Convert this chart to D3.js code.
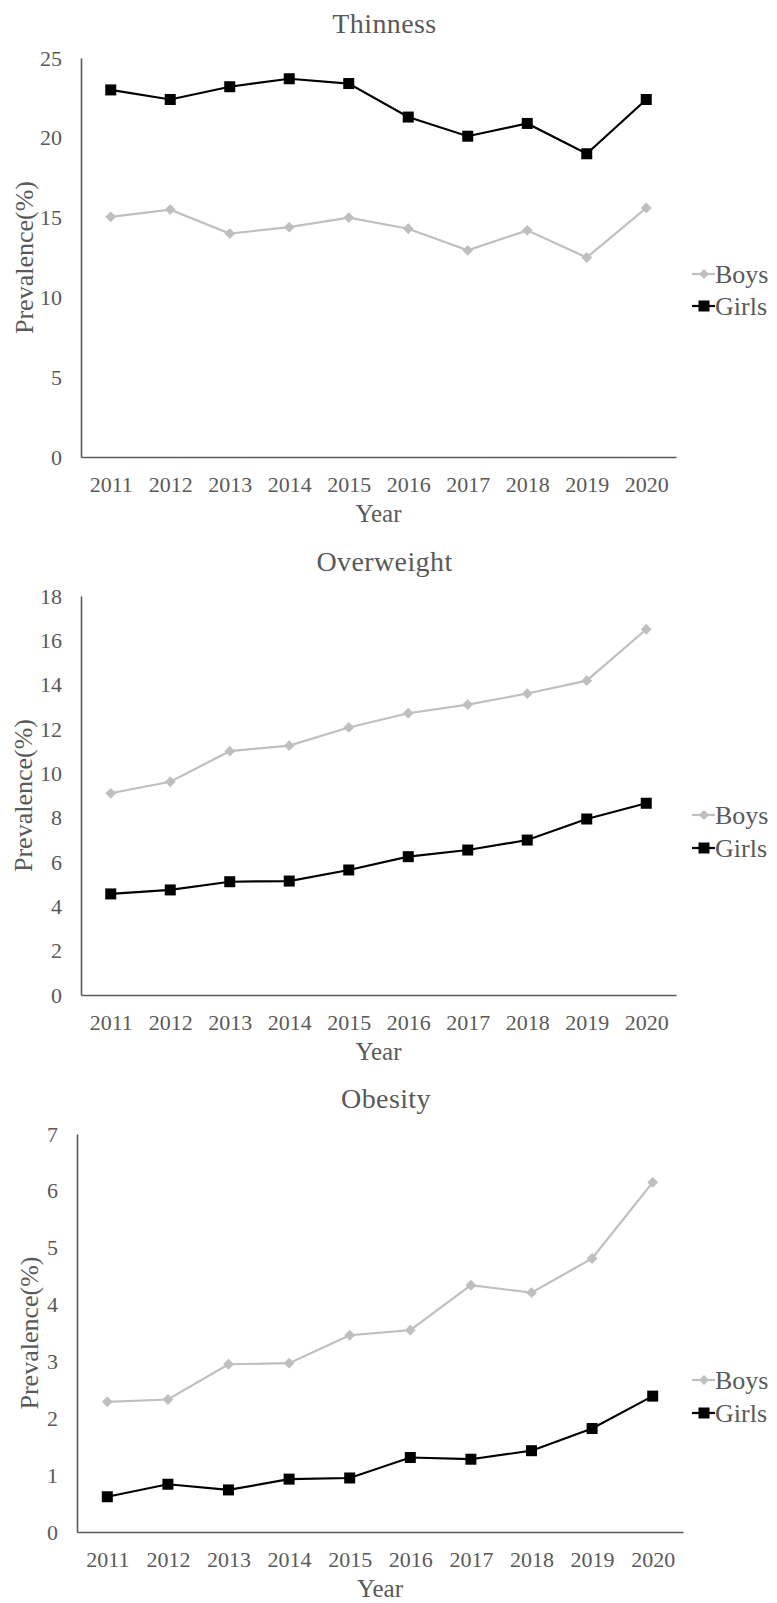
<!DOCTYPE html>
<html>
<head>
<meta charset="utf-8">
<script src="https://cdn.jsdelivr.net/npm/d3@7"></script>
<style>
  html, body { margin: 0; padding: 0; background: #fff; }
  svg { display: block; font-family: "Liberation Serif", "Times New Roman", serif; }
</style>
</head>
<body>
<svg id="chart" width="777" height="1603"></svg>
<script>
// Prevalence (%) by survey year
const years = ["2011", "2012", "2013", "2014", "2015", "2016", "2017", "2018", "2019", "2020"];

const thinnessBoys  = [15.05, 15.5, 14.0, 14.4, 15.0, 14.3, 12.95, 14.2, 12.5, 15.6];
const thinnessGirls = [23.0, 22.4, 23.2, 23.7, 23.4, 21.3, 20.1, 20.9, 19.0, 22.4];

const overweightBoys  = [9.1, 9.62, 11.0, 11.25, 12.07, 12.71, 13.1, 13.6, 14.18, 16.5];
const overweightGirls = [4.56, 4.74, 5.11, 5.14, 5.64, 6.24, 6.54, 6.99, 7.94, 8.65];

const obesityBoys  = [2.29, 2.33, 2.95, 2.97, 3.46, 3.55, 4.34, 4.21, 4.81, 6.15];
const obesityGirls = [0.62, 0.84, 0.74, 0.93, 0.95, 1.31, 1.28, 1.43, 1.82, 2.39];

const panelTitles = ["Thinness", "Overweight", "Obesity"];
const yMaxes = [25, 18, 7];
const yTickSteps = [5, 2, 1];
const seriesNames = ["Boys", "Girls"];

const panels = [
  { title: panelTitles[0], yMax: yMaxes[0], step: yTickSteps[0], boys: thinnessBoys,   girls: thinnessGirls },
  { title: panelTitles[1], yMax: yMaxes[1], step: yTickSteps[1], boys: overweightBoys, girls: overweightGirls },
  { title: panelTitles[2], yMax: yMaxes[2], step: yTickSteps[2], boys: obesityBoys,    girls: obesityGirls }
];

// plot frames for the three stacked charts
const frames = [
  { left: 81, right: 676, top: 58,   bottom: 457,  titleY: 33,   yLabelX: 25, legendY: [274, 306] },
  { left: 81, right: 676, top: 596,  bottom: 995,  titleY: 571,  yLabelX: 24, legendY: [815, 848] },
  { left: 77, right: 683, top: 1134, bottom: 1532, titleY: 1108, yLabelX: 30, legendY: [1380, 1413] }
];

const textColor = "#595959";
const axisColor = "#595959";
const boysColor = "#bfbfbf";
const girlsColor = "#000000";

const svg = d3.select("#chart");

function diamond(sel, size) {
  sel.append("path").attr("d", `M0,${-size}L${size},0L0,${size}L${-size},0Z`);
}

panels.forEach((p, i) => {
  const f = frames[i];
  const g = svg.append("g");

  const x = d3.scalePoint().domain(years).range([f.left, f.right]).padding(0.5);
  const y = d3.scaleLinear().domain([0, p.yMax]).range([f.bottom, f.top]);

  // title
  g.append("text")
    .attr("x", (f.left + f.right) / 2 + 6)
    .attr("y", f.titleY)
    .attr("text-anchor", "middle")
    .attr("fill", textColor)
    .attr("font-size", 28)
    .attr("letter-spacing", 0.4)
    .text(p.title);

  // y axis
  const yAxis = g.append("g")
    .attr("transform", `translate(${f.left},0)`)
    .call(d3.axisLeft(y)
      .tickValues(d3.range(0, p.yMax + 0.001, p.step))
      .tickFormat(d3.format("d"))
      .tickSize(0).tickSizeOuter(0).tickPadding(19));
  yAxis.select(".domain").attr("stroke", axisColor).attr("stroke-width", 1.6);
  yAxis.selectAll("text").attr("fill", textColor).attr("font-size", 22).attr("font-family", "Liberation Serif");

  // x axis
  const xAxis = g.append("g")
    .attr("transform", `translate(0,${f.bottom})`)
    .call(d3.axisBottom(x).tickSize(0).tickSizeOuter(0).tickPadding(19));
  xAxis.select(".domain").attr("stroke", axisColor).attr("stroke-width", 1.6);
  xAxis.selectAll("text").attr("fill", textColor).attr("font-size", 22).attr("font-family", "Liberation Serif");

  // axis titles
  g.append("text")
    .attr("transform", `translate(${f.yLabelX},${(f.top + f.bottom) / 2}) rotate(-90)`)
    .attr("text-anchor", "middle")
    .attr("dy", "0.3em")
    .attr("fill", textColor)
    .attr("font-size", 26)
    .text("Prevalence(%)");

  g.append("text")
    .attr("x", (f.left + f.right) / 2)
    .attr("y", f.bottom + 65)
    .attr("text-anchor", "middle")
    .attr("fill", textColor)
    .attr("font-size", 25)
    .text("Year");

  const line = d3.line().x((d, k) => x(years[k])).y(d => y(d));

  // Boys: grey line with diamonds
  g.append("path").datum(p.boys)
    .attr("d", line).attr("fill", "none")
    .attr("stroke", boysColor).attr("stroke-width", 2.2);
  g.selectAll(".boy").data(p.boys).join("g")
    .attr("class", "boy")
    .attr("transform", (d, k) => `translate(${x(years[k])},${y(d)})`)
    .attr("fill", boysColor)
    .call(diamond, 5.4);

  // Girls: black line with squares
  g.append("path").datum(p.girls)
    .attr("d", line).attr("fill", "none")
    .attr("stroke", girlsColor).attr("stroke-width", 2.2);
  g.selectAll(".girl").data(p.girls).join("rect")
    .attr("class", "girl")
    .attr("x", (d, k) => x(years[k]) - 5.5)
    .attr("y", d => y(d) - 5.5)
    .attr("width", 11).attr("height", 11)
    .attr("fill", girlsColor);

  // legend
  const lg = g.append("g");
  seriesNames.forEach((name, k) => {
    const ly = f.legendY[k];
    const color = k === 0 ? boysColor : girlsColor;
    const item = lg.append("g").attr("transform", `translate(0,${ly})`);
    item.append("line").attr("x1", 692).attr("x2", 715).attr("y1", 0).attr("y2", 0)
      .attr("stroke", color).attr("stroke-width", 2.2);
    if (k === 0) {
      item.append("g").attr("transform", "translate(704,0)").attr("fill", color).call(diamond, 5);
    } else {
      item.append("rect").attr("x", 698.5).attr("y", -5.5).attr("width", 11).attr("height", 11).attr("fill", color);
    }
    item.append("text").attr("x", 715).attr("y", 0).attr("dy", "0.35em")
      .attr("fill", textColor).attr("font-size", 26).text(name);
  });
});
</script>
</body>
</html>
